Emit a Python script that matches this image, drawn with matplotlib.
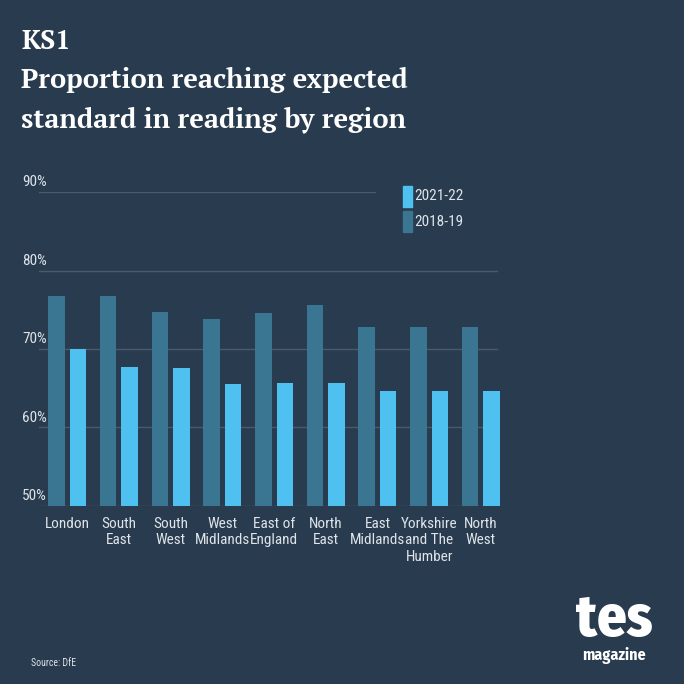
import numpy as np
import matplotlib
matplotlib.use("Agg")
import matplotlib.pyplot as plt
from matplotlib.patches import Rectangle

# data
regions = ["London", "South\nEast", "South\nWest", "West\nMidlands", "East of\nEngland",
           "North\nEast", "East\nMidlands", "Yorkshire\nand The\nHumber", "North\nWest"]
vals_1819 = [76.8, 76.8, 74.7, 73.8, 74.6, 75.6, 72.8, 72.8, 72.8]
vals_2122 = [70.0, 67.7, 67.6, 65.6, 65.7, 65.7, 64.7, 64.7, 64.7]
series_names = ["2021-22", "2018-19"]
yticks = [50, 60, 70, 80, 90]
title_lines = ["KS1", "Proportion reaching expected", "standard in reading by region"]

bg = "#293b4e"
dark_bar = "#3a7592"
light_bar = "#4fc1f0"
grid_col = "#485a6b"
txt_col = "#dfe4ea"

sans = ["Roboto Condensed", "Liberation Sans Narrow", "DejaVu Sans"]
serif = ["PT Serif", "Liberation Serif", "DejaVu Serif"]
logo = ["Fira Sans Condensed", "Roboto Condensed", "DejaVu Sans"]

fig = plt.figure(figsize=(6.84, 6.84), dpi=100)
fig.patch.set_facecolor(bg)

W = H = 684.0
def fx(px): return px / W
def fy(py): return 1 - py / H

ax = fig.add_axes([fx(39), fy(506), fx(500) - fx(39), fy(192) - fy(506)])
ax.set_facecolor(bg)

x = np.arange(len(regions))
off = 0.208
bw = 0.32
ax.bar(x - off, np.array(vals_1819) - 50, bw, bottom=50, color=dark_bar, zorder=2)
ax.bar(x + off, np.array(vals_2122) - 50, bw, bottom=50, color=light_bar, zorder=2)

ax.set_xlim(-0.546, 8.37)
ax.set_ylim(50, 90)

# gridlines (the top one stops short of the legend)
for t in yticks:
    xmax = 0.728 if t == 90 else 0.994
    ax.axhline(t, xmin=0, xmax=xmax, color=grid_col, lw=1, zorder=1)
    fig.text(fx(22), fy(192 + (90 - t) * 7.85) + 0.004, "%d%%" % t, color=txt_col,
             fontsize=11, family=sans, ha="left", va="bottom")

for sp in ax.spines.values():
    sp.set_visible(False)
ax.set_xticks(x)
ax.set_xticklabels(regions, color=txt_col, fontsize=11, family=sans, linespacing=1.2)
ax.tick_params(axis="x", length=0, pad=8)
ax.set_yticks([])

# legend, drawn by hand
for i, (name, col) in enumerate(zip(series_names, [light_bar, dark_bar])):
    top = 186 + i * 25
    fig.add_artist(Rectangle((fx(403), fy(top + 21)), fx(9), 21 / H, color=col,
                             transform=fig.transFigure))
    fig.text(fx(414), fy(top + 10.5), name, color=txt_col, fontsize=11,
             family=sans, va="center", ha="left")

# title, one line at a time
for i, line in enumerate(title_lines):
    fig.text(fx(21), fy(49 + 39 * i), line, color="white", fontsize=19.5,
             fontweight="bold", family=serif, ha="left", va="baseline")

fig.text(fx(31), fy(663), "Source: DfE", color=txt_col, fontsize=7, family=sans,
         va="center")

# logo
fig.text(fx(614), fy(636), "tes", color="white", fontsize=42, fontweight="heavy",
         family=logo, ha="center", va="baseline")
fig.text(fx(614), fy(660), "magazine", color="white", fontsize=11.5, fontweight="bold",
         family=logo, ha="center", va="baseline")

fig.savefig("out.png", dpi=100, facecolor=bg)
